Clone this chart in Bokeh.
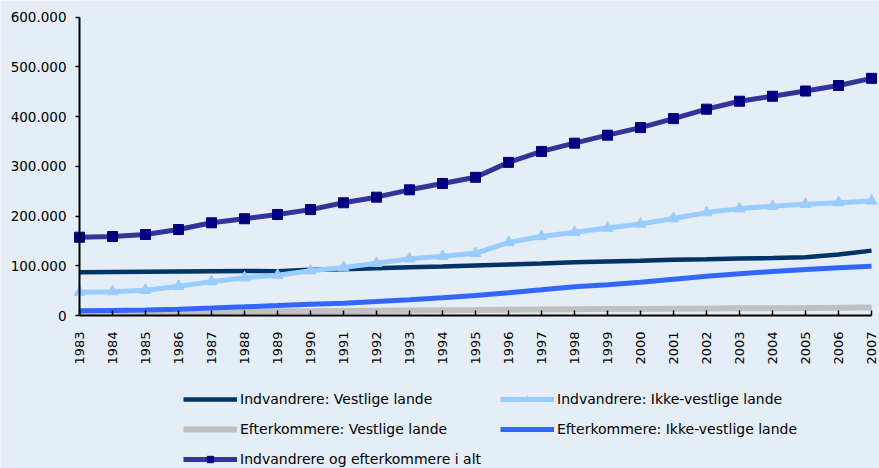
from math import pi
from bokeh.plotting import figure
from bokeh.models import Range1d, FixedTicker, Legend, LegendItem
from bokeh.embed import file_html
from bokeh.resources import INLINE

years = [1983, 1984, 1985, 1986, 1987, 1988, 1989, 1990, 1991, 1992, 1993, 1994, 1995,
         1996, 1997, 1998, 1999, 2000, 2001, 2002, 2003, 2004, 2005, 2006, 2007]

indv_vestlige = [87000, 87500, 88000, 88500, 89000, 89500, 89000, 92000, 93000, 95000, 97000,
                 98500, 100500, 102500, 104500, 107000, 108500, 110000, 112000, 113000,
                 114500, 115500, 117000, 122500, 130500]
indv_ikke_vestlige = [47000, 48000, 51000, 59000, 68000, 76000, 81000, 90000, 96500, 105000,
                      114000, 119000, 125000, 147000, 159000, 167500, 176000, 184000, 195000,
                      207000, 215000, 220000, 224000, 227000, 230500]
efterk_vestlige = [5000, 5500, 6000, 6500, 7200, 7800, 8300, 8800, 9300, 9800, 10300, 10800,
                   11200, 11700, 12100, 12500, 12900, 13300, 13700, 14000, 14400, 14800,
                   15100, 15500, 16000]
efterk_ikke_vestlige = [9400, 10200, 11000, 12700, 15000, 17400, 20000, 22800, 24800, 28000,
                        31600, 35600, 40000, 45600, 51700, 58000, 62000, 67000, 73000, 79000,
                        84000, 88500, 92500, 96000, 99000]
i_alt = [157500, 158900, 162900, 173000, 186500, 194600, 203200, 213000, 226700, 238000,
         252800, 265500, 278000, 308000, 330000, 346600, 362700, 378000, 396000, 415000,
         431000, 441000, 451500, 462600, 477000]

y_ticks = [0, 100000, 200000, 300000, 400000, 500000, 600000]
y_tick_labels = ["0", "100.000", "200.000", "300.000", "400.000", "500.000", "600.000"]

labels = ["Indvandrere: Vestlige lande", "Indvandrere: Ikke-vestlige lande",
          "Efterkommere: Vestlige lande", "Efterkommere: Ikke-vestlige lande",
          "Indvandrere og efterkommere i alt"]

BG = "#E5EEF6"
FONT = "DejaVu Sans"

# layout: the frame covers the whole canvas; axes are pinned at the data origin
W, H = 879, 468
X_FIRST_PX, X_LAST_PX = 79, 871      # pixel positions of first / last year
Y_ZERO_PX, Y_TOP_PX = 315, 16.7      # pixel positions of 0 and of the top tick
x_first, x_last = years[0], years[-1]
px_per_year = (X_LAST_PX - X_FIRST_PX) / (x_last - x_first)
y_top = y_ticks[-1]
px_per_unit = (Y_ZERO_PX - Y_TOP_PX) / y_top

x_range = Range1d(x_first - X_FIRST_PX / px_per_year, x_last + (W - X_LAST_PX) / px_per_year)
y_range = Range1d(-(H - Y_ZERO_PX) / px_per_unit, y_top + Y_TOP_PX / px_per_unit)

p = figure(width=W, height=H, output_backend="svg", toolbar_location=None,
           x_range=x_range, y_range=y_range,
           background_fill_color=BG, border_fill_color=BG, min_border=0)
p.outline_line_color = None
p.grid.visible = False

xa = p.xaxis[0]
xa.fixed_location = 0
xa.ticker = FixedTicker(ticks=years)
xa.bounds = (x_first, x_last)
xa.major_label_orientation = pi / 2
xa.axis_line_width = 2
xa.axis_line_color = "black"
xa.major_tick_line_color = "black"
xa.major_tick_line_width = 1.5
xa.major_tick_in = 5
xa.major_tick_out = 0
xa.minor_tick_line_color = None
xa.major_label_text_font = FONT
xa.major_label_text_font_size = "13px"
xa.major_label_text_color = "black"
xa.major_label_standoff = 16

ya = p.yaxis[0]
ya.fixed_location = x_first
ya.ticker = FixedTicker(ticks=y_ticks)
ya.bounds = (0, y_top)
ya.major_label_overrides = {t: l for t, l in zip(y_ticks, y_tick_labels)}
ya.axis_line_width = 2
ya.axis_line_color = "black"
ya.major_tick_line_color = "black"
ya.major_tick_line_width = 1.5
ya.major_tick_in = 0
ya.major_tick_out = 4
ya.minor_tick_line_color = None
ya.major_label_text_font = FONT
ya.major_label_text_font_size = "13.5px"
ya.major_label_text_color = "black"
ya.major_label_standoff = 9

r1 = p.line(years, indv_vestlige, line_color="#003366", line_width=4.5)
r2 = p.line(years, indv_ikke_vestlige, line_color="#99CCFF", line_width=5)
r2m = p.scatter(years, indv_ikke_vestlige, marker="triangle", size=11,
                fill_color="#99CCFF", line_color="#99CCFF")
r3 = p.line(years, efterk_vestlige, line_color="#C0C0C0", line_width=6)
r4 = p.line(years, efterk_ikke_vestlige, line_color="#3366FF", line_width=5)
r5 = p.line(years, i_alt, line_color="#333399", line_width=5)
r5m = p.scatter(years, i_alt, marker="square", size=10,
                fill_color="#000080", line_color="#000080")

# column-major fill: first column = items 0, 2, 4; second column = items 1, 3
items = [LegendItem(label=labels[0], renderers=[r1]),
         LegendItem(label=labels[2], renderers=[r3]),
         LegendItem(label=labels[4], renderers=[r5, r5m]),
         LegendItem(label=labels[1], renderers=[r2, r2m]),
         LegendItem(label=labels[3], renderers=[r4])]

legend = Legend(items=items, ncols=2, location=(183, 1),
                glyph_width=54, glyph_height=16, label_height=16, label_standoff=3,
                label_width=246, spacing=14, padding=0, margin=0, border_line_color=None,
                background_fill_alpha=0, label_text_font=FONT,
                label_text_font_size="14px", label_text_color="black")
p.add_layout(legend, "center")

open("out.html", "w").write(file_html(p, INLINE))
